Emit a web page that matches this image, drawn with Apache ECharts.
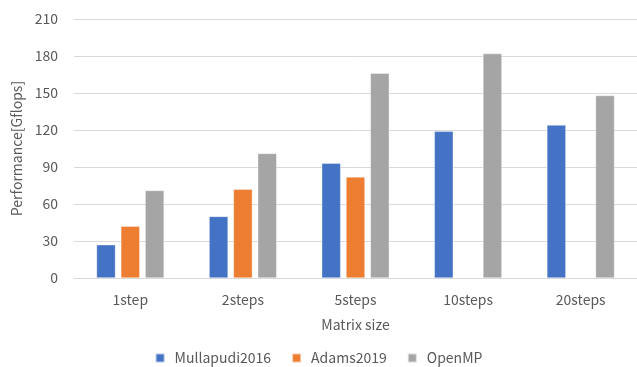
<!DOCTYPE html>
<html>
<head>
<meta charset="utf-8">
<script src="https://cdn.jsdelivr.net/npm/echarts@6/dist/echarts.min.js"></script>
<style>
  html, body { margin: 0; padding: 0; background: #fff; }
  #chart { width: 637px; height: 367px; }
</style>
</head>
<body>
<div id="chart"></div>
<script>
// Performance per matrix size for three implementations
const categories = ['1step', '2steps', '5steps', '10steps', '20steps'];
const mullapudi2016 = [27, 50, 93, 119, 124];
const adams2019 = [42, 72, 82, null, null];
const openMP = [71, 101, 166, 182, 148];
const yTicks = { min: 0, max: 210, interval: 30 };

const FONT = '"Noto Sans CJK JP", "Noto Sans", sans-serif';
const TEXT = '#595959';

const chart = echarts.init(document.getElementById('chart'), null, { renderer: 'canvas' });

function barSeries(name, data, color) {
  return {
    name: name,
    type: 'bar',
    data: data,
    barWidth: 19,
    barGap: '28%',
    itemStyle: { color: color, borderColor: 'rgba(255,255,255,0.6)', borderWidth: 0.6 },
    emphasis: { disabled: true }
  };
}

chart.setOption({
  animation: false,
  textStyle: { fontFamily: FONT, color: TEXT },
  grid: { left: 74, right: -3, top: 19, bottom: 89, containLabel: false },
  legend: {
    bottom: 0,
    padding: 0,
    left: 'center',
    itemWidth: 9,
    itemHeight: 9,
    itemGap: 20,
    icon: 'rect',
    textStyle: { fontFamily: FONT, fontSize: 14, color: TEXT, padding: [0, 0, 0, 5], letterSpacing: 0.5, height: 18, lineHeight: 18 },
    data: ['Mullapudi2016', 'Adams2019', 'OpenMP']
  },
  xAxis: {
    type: 'category',
    data: categories,
    name: 'Matrix size',
    nameLocation: 'middle',
    nameGap: 40,
    nameTextStyle: { fontFamily: FONT, fontSize: 14, color: TEXT, letterSpacing: 0.5 },
    axisLine: { lineStyle: { color: '#D9D9D9', width: 1 } },
    axisTick: { show: false },
    axisLabel: { fontFamily: FONT, fontSize: 14, color: TEXT, margin: 15, letterSpacing: 0.4 },
  },
  yAxis: {
    type: 'value',
    min: yTicks.min,
    max: yTicks.max,
    interval: yTicks.interval,
    name: 'Performance[Gflops]',
    nameLocation: 'middle',
    nameGap: 50,
    nameRotate: 90,
    nameTextStyle: { fontFamily: FONT, fontSize: 14, color: TEXT, letterSpacing: 0.5 },
    axisLine: { show: false },
    axisTick: { show: false },
    axisLabel: { fontFamily: FONT, fontSize: 14, color: TEXT, margin: 16, letterSpacing: 0.5 },
    splitLine: { lineStyle: { color: '#D9D9D9', width: 1 } }
  },
  series: [
    barSeries('Mullapudi2016', mullapudi2016, '#4472C4'),
    barSeries('Adams2019', adams2019, '#ED7D31'),
    barSeries('OpenMP', openMP, '#A5A5A5')
  ]
});
</script>
</body>
</html>
